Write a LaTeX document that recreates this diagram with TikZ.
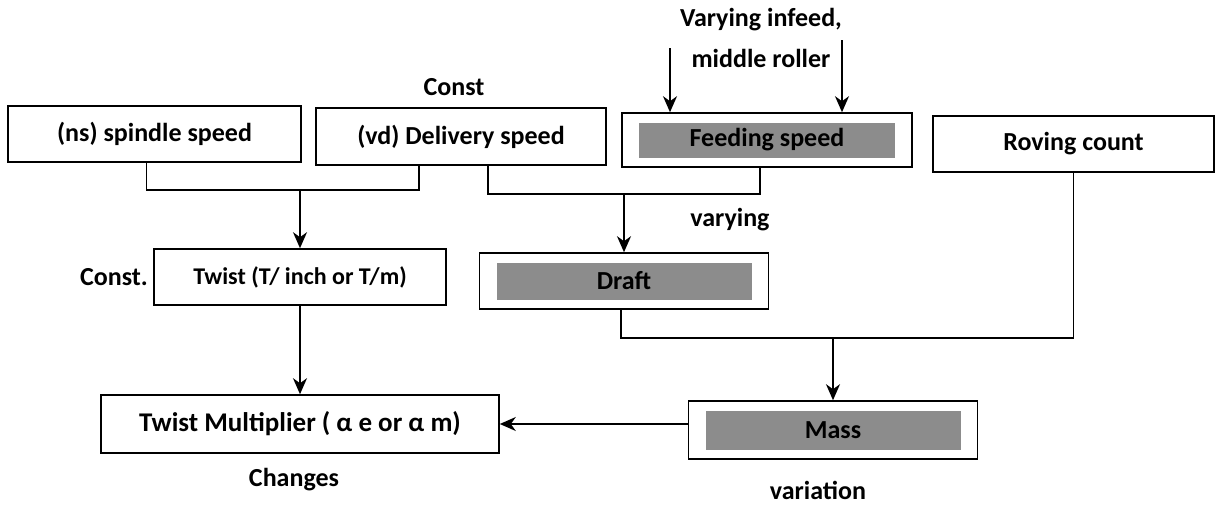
\documentclass[tikz,border=0pt]{standalone}
\usepackage{fontspec}
\setmainfont{Carlito}
\usetikzlibrary{positioning, arrows.meta}
\tikzset{
	box/.style={draw=black, line width=1.6pt, inner sep=0pt, font=\bfseries\fontsize{26}{30}\selectfont},
	shadedbox/.style={box, path picture={\fill[black!45] ([shift={(17pt,-10pt)}]path picture bounding box.north west) rectangle ([shift={(-17pt,9pt)}]path picture bounding box.south east);}},
	wire/.style={line width=1.5pt},
	arr/.style={wire, -{Stealth[length=16pt, width=14pt, inset=5pt]}},
	lbl/.style={font=\bfseries\fontsize{26}{30}\selectfont}
}

\begin{document}
\begin{tikzpicture}[x=1pt, y=-1pt]
\useasboundingbox[fill=white] (0,0) rectangle (1216,504);
% top row
\node[box, minimum width=293pt, minimum height=56pt] (spindle) at (154.5,134) {(ns) spindle speed};
\node[box, minimum width=290pt, minimum height=57pt] (delivery) at (461,136.5) {(vd) Delivery speed};
\node[shadedbox, minimum width=290pt, minimum height=54pt] (feeding) at (767,140) {Feeding speed};
\node[box, minimum width=281pt, minimum height=56pt] (roving) at (1073.5,144) {Roving count};
% middle row
\node[box, minimum width=292pt, minimum height=56pt, font=\bfseries\fontsize{24}{28}\selectfont] (twist) at (300,277) {Twist (T/ inch or T/m)};
\node[shadedbox, minimum width=289pt, minimum height=56pt] (draft) at (624,281) {Draft};
% bottom row
\node[box, minimum width=398pt, minimum height=58pt, font=\bfseries\fontsize{27}{31}\selectfont] (tm) at (300,424) {Twist Multiplier ( α e or α m)};
\node[shadedbox, minimum width=289pt, minimum height=58pt] (mass) at (833,430) {Mass};
% labels
\node[lbl] (constA) at (454,87) {Const};
\node[lbl] (infeedA) at (761,20) {Varying infeed,};
\node[lbl] (infeedB) at (761,58) {middle roller};
\node[lbl] (varying) at (730,220) {varying};
\node[lbl] (constB) at (114,277) {Const.};
\node[lbl] (changes) at (294,480) {Changes};
\node[lbl] (variation) at (818,490) {variation};
% bus lines
\coordinate (sp) at ([xshift=-8pt]spindle.south);
\coordinate (dl) at ([xshift=-42pt]delivery.south);
\coordinate (dr) at ([xshift=27pt]delivery.south);
\coordinate (fd) at ([xshift=-7pt]feeding.south);
\coordinate (j1) at (300,190);
\coordinate (j2) at (624,194);
\coordinate (j3) at (833,338);
\coordinate (f1) at (670,48);
\coordinate (f2) at (842,40);
\draw[wire] (sp) |- (j1);
\draw[wire] (dl) |- (j1);
\draw[wire] (dr) |- (j2);
\draw[wire] (fd) |- (j2);
\draw[wire] ([xshift=-3pt]draft.south) |- (j3);
\draw[wire] (roving.south) |- (j3);
% arrows
\draw[arr] (j1) -- (twist);
\draw[arr] (j2) -- (draft);
\draw[arr] (j3) -- (mass);
\draw[arr] (twist) -- (tm);
\draw[arr] (mass.west |- tm.east) -- (tm.east);
\draw[arr] (f1) -- (f1 |- feeding.north);
\draw[arr] (f2) -- (f2 |- feeding.north);
\end{tikzpicture}
\end{document}
